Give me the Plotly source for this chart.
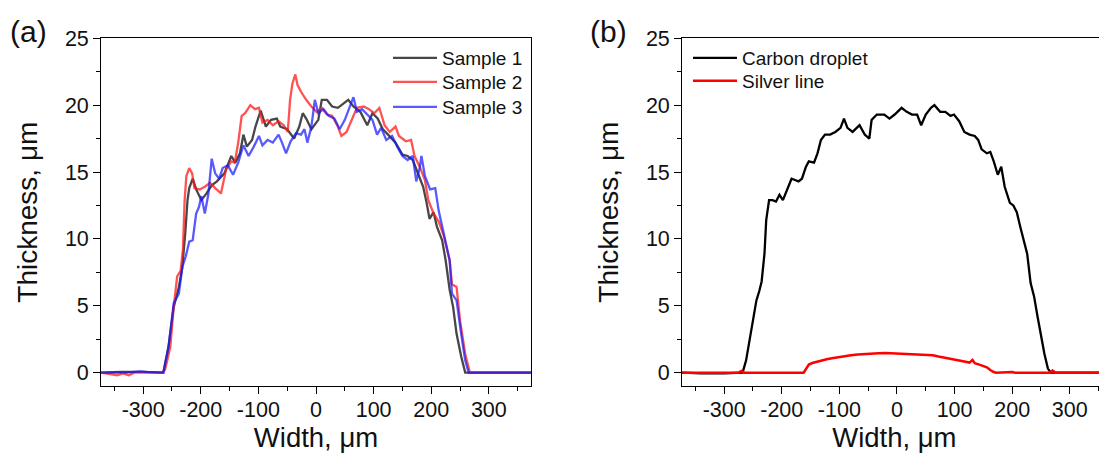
import plotly.graph_objects as go

# ---------------- data ----------------
s1_x = [-373, -340, -300, -265, -256, -247, -238, -232, -227, -223, -220, -214, -208, -199, -190, -181,
        -172, -159, -147, -140, -132, -126, -120, -111, -105, -96, -87, -78, -68, -62, -50, -38, -29,
        -23, -17, -8, 4, 10, 19, 28, 38, 47, 56, 65, 77, 89, 98, 107, 116, 125, 138, 150, 159, 168,
        177, 186, 192, 197, 204, 210, 219, 225, 232, 238, 244, 252, 259, 300, 373]
s1_y = [0, 0.05, 0.05, 0, 1.95, 4.9, 6.4, 7.9, 10.4, 12.9, 13.8, 14.5, 13.7, 12.9, 13.4, 14.0,
        14.3, 14.9, 16.2, 15.7, 16.4, 17.8, 16.9, 17.4, 18.4, 19.6, 18.4, 18.9, 19.0, 18.4, 18.2, 17.5, 18.4,
        19.4, 19.0, 18.2, 18.9, 20.4, 20.4, 19.9, 19.8, 20.1, 20.4, 19.9, 19.5, 18.5, 19.4, 19.0, 18.2, 17.8, 17.2, 16.3, 16.2, 15.9,
        14.9, 13.9, 12.7, 11.5, 12.0, 10.9, 9.9, 8.4, 6.2, 4.9, 2.9, 1.2, 0, 0, 0]

s2_x = [-373, -345, -335, -325, -315, -290, -268, -262, -253, -247, -241, -235, -231, -228, -225, -220,
        -215, -211, -202, -193, -184, -175, -165, -156, -147, -141, -135, -129, -123, -114, -106, -99,
        -93, -84, -75, -65, -56, -49, -45, -41, -36, -32, -26, -17, -8, 1, 10, 19, 28, 38, 44, 53, 62,
        71, 83, 92, 101, 110, 119, 128, 138, 144, 156, 165, 171, 180, 189, 195, 204, 213, 222, 232,
        236, 244, 250, 259, 267, 300, 373]
s2_y = [0, -0.2, -0.05, -0.2, 0, 0, 0, 0.2, 1.9, 4.9, 7.2, 7.6, 9.2, 12.9, 14.7, 15.3,
        14.9, 13.8, 13.7, 13.9, 14.2, 13.8, 13.4, 15.2, 15.8, 15.7, 17.2, 19.2, 19.4, 20.0, 19.7, 19.8,
        18.7, 18.9, 18.5, 18.8, 18.5, 18.0, 20.4, 21.6, 22.3, 21.5, 21.0, 20.4, 19.9, 19.5, 19.8, 19.3, 19.2, 18.4, 17.7, 18.0, 18.9,
        19.8, 19.9, 19.7, 19.4, 19.8, 18.5, 18.0, 18.4, 17.7, 17.3, 17.4, 16.2, 15.4, 14.4, 12.9, 11.9, 11.3, 10.2, 8.4,
        6.6, 6.4, 3.9, 1.4, 0, 0, 0]

s3_x = [-373, -330, -305, -295, -265, -256, -247, -238, -232, -226, -220, -214, -208, -203, -199, -193,
        -187, -181, -175, -168, -162, -153, -144, -135, -126, -117, -108, -99, -93, -84, -75, -65, -59,
        -52, -44, -35, -26, -20, -15, -8, -2, 4, 13, 22, 32, 41, 50, 59, 65, 71, 80, 89, 98, 106, 113,
        122, 132, 141, 150, 159, 168, 174, 180, 183, 189, 198, 207, 213, 222, 232, 236, 244, 252, 259,
        265, 300, 373]
s3_y = [0, 0, 0.1, 0.05, 0, 1.9, 5.2, 5.9, 7.9, 8.7, 9.8, 9.9, 11.9, 12.4, 13.2, 11.9,
        13.3, 16.0, 14.9, 14.5, 15.3, 15.5, 14.8, 15.7, 17.0, 16.2, 16.9, 17.7, 17.0, 17.4, 17.2, 17.8, 17.2,
        16.4, 17.3, 17.9, 17.8, 18.2, 17.2, 18.4, 20.4, 19.4, 19.7, 19.2, 19.0, 18.2, 18.9, 19.9, 20.6, 19.5, 19.7, 19.3, 18.9, 17.8, 18.3,
        17.4, 17.7, 16.9, 16.2, 15.9, 16.2, 14.3, 15.3, 16.2, 14.7, 13.7, 13.8, 12.1, 10.4, 8.4, 5.9, 5.4, 2.9, 0.9,
        0, 0, 0]

cd_x = [-373, -340, -300, -268, -262, -256, -250, -244, -239, -235, -230, -227, -222, -216, -210, -204,
        -198, -190, -183, -177, -171, -165, -158, -153, -144, -138, -132, -125, -116, -107, -98, -92,
        -86, -77, -65, -56, -48, -44, -35, -22, -13, -4, 8, 17, 26, 35, 42, 50, 59, 65, 75, 84, 93, 99,
        108, 117, 126, 135, 141, 147, 156, 162, 168, 175, 181, 187, 196, 202, 208, 214, 220, 226, 232,
        238, 244, 250, 256, 262, 267, 300, 373]
cd_y = [0, -0.05, -0.05, 0, 0.9, 2.4, 3.9, 5.4, 6.1, 6.8, 8.9, 11.4, 12.9, 12.9, 12.8, 13.3,
        12.9, 13.8, 14.5, 14.4, 14.3, 14.5, 15.4, 15.8, 15.7, 16.4, 17.4, 17.8, 17.8, 18.0, 18.3, 19.0,
        18.3, 18.0, 18.5, 17.8, 17.5, 18.9, 19.3, 19.3, 19.0, 19.3, 19.8, 19.5, 19.3, 19.3, 18.5, 19.3, 19.8, 20.0, 19.5, 19.5, 19.2, 19.3,
        18.8, 18.0, 17.8, 17.7, 17.4, 16.7, 16.4, 16.5, 15.8, 14.8, 15.4, 13.9, 12.7, 12.5, 12.0, 10.9, 9.9, 8.9, 6.7,
        5.7, 4.2, 2.7, 1.4, 0.3, 0, 0, 0]

sl_x = [-373, -275, -270, -265, -162, -157, -153, -147, -141, -132, -122, -113, -104, -92, -80, -68, -56,
        -44, -32, -20, -7, 5, 17, 29, 41, 53, 62, 72, 81, 90, 99, 108, 117, 126, 131, 135, 143, 150,
        156, 162, 167, 172, 200, 205, 265, 270, 275, 373]
sl_y = [0, 0, 0.12, 0, 0, 0.35, 0.6, 0.72, 0.8, 0.9, 1.0, 1.08, 1.15, 1.22, 1.3, 1.35, 1.4,
        1.43, 1.45, 1.47, 1.45, 1.43, 1.4, 1.38, 1.37, 1.37, 1.3, 1.2, 1.14, 1.07, 0.98, 0.9, 0.82, 0.75, 0.95, 0.7, 0.6, 0.5,
        0.4, 0.2, 0.06, 0, 0.05, 0, 0, 0.15, 0, 0]

x_tick_vals = [-300, -200, -100, 0, 100, 200, 300]
x_tick_text = ["-300", "-200", "-100", "0", "100", "200", "300"]
y_tick_vals = [0, 5, 10, 15, 20, 25]

# ---------------- figure ----------------
# the page body has an 8 px margin, so the figure is drawn 8 px in from the window corner
OFF = 8
W, H = 1107 - OFF, 463 - OFF
FONT = "Liberation Sans, Arial, sans-serif"
TXT = "#111111"


def px_x(p):
    return (p - OFF) / W


def px_y(p):
    return 1 - (p - OFF) / H


fig = go.Figure()
fig.add_trace(go.Scatter(x=s1_x, y=s1_y, mode="lines", name="Sample 1",
                         line=dict(color="rgba(45,45,45,0.88)", width=2.3), xaxis="x", yaxis="y", legend="legend"))
fig.add_trace(go.Scatter(x=s2_x, y=s2_y, mode="lines", name="Sample 2",
                         line=dict(color="rgba(255,25,25,0.75)", width=2.3), xaxis="x", yaxis="y", legend="legend2"))
fig.add_trace(go.Scatter(x=s3_x, y=s3_y, mode="lines", name="Sample 3",
                         line=dict(color="rgba(25,25,255,0.72)", width=2.3), xaxis="x", yaxis="y", legend="legend3"))
fig.add_trace(go.Scatter(x=cd_x, y=cd_y, mode="lines", name="Carbon droplet",
                         line=dict(color="black", width=2.3), xaxis="x2", yaxis="y2", legend="legend4"))
fig.add_trace(go.Scatter(x=sl_x, y=sl_y, mode="lines", name="Silver line",
                         line=dict(color="#ff0000", width=2.5), xaxis="x2", yaxis="y2", legend="legend5"))

x_common = dict(
    tickvals=x_tick_vals, ticktext=x_tick_text, ticks="outside", ticklen=7, tickwidth=1.2, tickcolor="black",
    minor=dict(dtick=50, tick0=0, ticks="outside", ticklen=4, tickwidth=1.2, tickcolor="black"),
    showline=True, linecolor="black", linewidth=1.2, mirror=True,
    showgrid=False, zeroline=False, automargin=False, ticklabelstandoff=-3,
    tickfont=dict(family=FONT, size=21.5, color=TXT),
    title=dict(text="Width, μm", font=dict(family=FONT, size=27.5, color=TXT), standoff=2),
)
y_common = dict(
    range=[-1.0, 25], tickvals=y_tick_vals, ticks="outside", ticklen=6.5, tickwidth=1.2, tickcolor="black",
    minor=dict(dtick=2.5, tick0=0, ticks="outside", ticklen=4, tickwidth=1.2, tickcolor="black"),
    showline=True, linecolor="black", linewidth=1.2,
    showgrid=False, zeroline=False, automargin=False,
    tickfont=dict(family=FONT, size=21.5, color=TXT),
    title=dict(text="Thickness, μm", font=dict(family=FONT, size=28, color=TXT), standoff=19),
)


def leg(xp, yp):
    return dict(x=px_x(xp), y=px_y(yp), xanchor="left", yanchor="top",
                bgcolor="rgba(0,0,0,0)", font=dict(family=FONT, size=19, color=TXT),
                itemwidth=44)


fig.update_layout(
    width=W, height=H,
    margin=dict(l=0, r=0, t=0, b=0),
    paper_bgcolor="white", plot_bgcolor="white",
    font=dict(family=FONT, color=TXT),
    xaxis=dict(domain=[px_x(100.7), px_x(531.3)], range=[-373.7, 373.7], anchor="y", **x_common),
    yaxis=dict(domain=[px_y(386), px_y(38.3)], anchor="x", mirror=True, **y_common),
    xaxis2=dict(domain=[px_x(681.7), 1.0], range=[-373.7, 364.6], anchor="y2", **x_common),
    yaxis2=dict(domain=[px_y(386), px_y(38.3)], anchor="x2", mirror=False, **y_common),
    legend=leg(388, 39),
    legend2=leg(388, 63),
    legend3=leg(388, 88),
    legend4=leg(688, 39),
    legend5=leg(688, 62),
    showlegend=True,
    annotations=[
        dict(text="(a)", x=px_x(28), y=px_y(31), xref="paper", yref="paper", showarrow=False,
             xanchor="center", yanchor="middle", font=dict(family=FONT, size=30, color=TXT)),
        dict(text="(b)", x=px_x(608), y=px_y(31), xref="paper", yref="paper", showarrow=False,
             xanchor="center", yanchor="middle", font=dict(family=FONT, size=30, color=TXT)),
    ],
)

fig.write_html("out.html")
